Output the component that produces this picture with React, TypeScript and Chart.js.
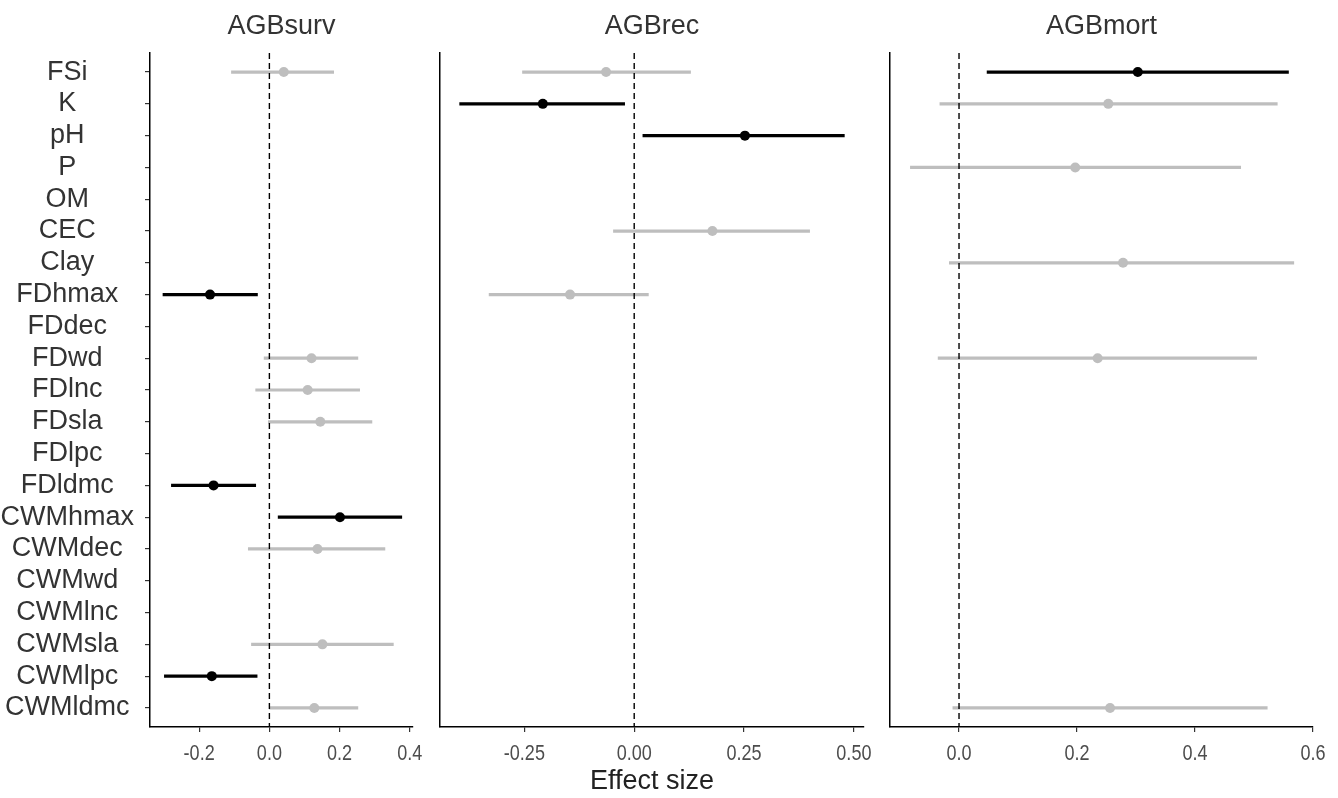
import React, { useEffect, useRef } from "react";
import { Chart, registerables } from "chart.js";

Chart.register(...registerables);

// ---------- DATA ----------
const categories = [
  "FSi", "K", "pH", "P", "OM", "CEC", "Clay", "FDhmax", "FDdec", "FDwd", "FDlnc",
  "FDsla", "FDlpc", "FDldmc", "CWMhmax", "CWMdec", "CWMwd", "CWMlnc", "CWMsla", "CWMlpc", "CWMldmc",
];

// AGBsurv
const survEst = [0.041, null, null, null, null, null, null, -0.169, null, 0.12, 0.109, 0.145, null, -0.159, 0.201, 0.137, null, null, 0.151, -0.164, 0.128];
const survLow = [-0.109, null, null, null, null, null, null, -0.304, null, -0.016, -0.04, -0.004, null, -0.28, 0.024, -0.061, null, null, -0.052, -0.3, -0.001];
const survHigh = [0.184, null, null, null, null, null, null, -0.033, null, 0.253, 0.258, 0.293, null, -0.038, 0.378, 0.33, null, null, 0.354, -0.034, 0.253];
const survTickValues = [-0.2, 0, 0.2, 0.4];
const survTickLabels = ["-0.2", "0.0", "0.2", "0.4"];

// AGBrec
const recEst = [-0.064, -0.208, 0.252, null, null, 0.178, null, -0.146, null, null, null, null, null, null, null, null, null, null, null, null, null];
const recLow = [-0.255, -0.398, 0.019, null, null, -0.048, null, -0.331, null, null, null, null, null, null, null, null, null, null, null, null, null];
const recHigh = [0.129, -0.021, 0.479, null, null, 0.4, null, 0.033, null, null, null, null, null, null, null, null, null, null, null, null, null];
const recTickValues = [-0.25, 0, 0.25, 0.5];
const recTickLabels = ["-0.25", "0.00", "0.25", "0.50"];

// AGBmort
const mortEst = [0.303, 0.253, null, 0.197, null, null, 0.278, null, null, 0.235, null, null, null, null, null, null, null, null, null, null, 0.256];
const mortLow = [0.047, -0.033, null, -0.083, null, null, -0.017, null, null, -0.036, null, null, null, null, null, null, null, null, null, null, -0.011];
const mortHigh = [0.559, 0.54, null, 0.478, null, null, 0.568, null, null, 0.505, null, null, null, null, null, null, null, null, null, null, 0.523];
const mortTickValues = [0, 0.2, 0.4, 0.6];
const mortTickLabels = ["0.0", "0.2", "0.4", "0.6"];

const panelTitles = ["AGBsurv", "AGBrec", "AGBmort"];
const xAxisTitle = "Effect size";

// ---------- STYLE ----------
const SIG = "#000000";
const NS = "#BEBEBE";
const SANS = '"Liberation Sans", Arial, sans-serif';
const H = 798;

type PanelSpec = {
  title: string;
  est: (number | null)[];
  low: (number | null)[];
  high: (number | null)[];
  tickValues: number[];
  tickLabels: string[];
  xMin: number;
  xMax: number;
  left: number;
  width: number;
  padLeft: number;
  padRight: number;
  showY: boolean;
  showXTitle: boolean;
};

const panels: PanelSpec[] = [
  { title: panelTitles[0], est: survEst, low: survLow, high: survHigh, tickValues: survTickValues, tickLabels: survTickLabels, xMin: -0.34, xMax: 0.409, left: 0, width: 425, padLeft: 0, padRight: 12, showY: true, showXTitle: false },
  { title: panelTitles[1], est: recEst, low: recLow, high: recHigh, tickValues: recTickValues, tickLabels: recTickLabels, xMin: -0.442, xMax: 0.523, left: 425, width: 449, padLeft: 15, padRight: 10, showY: false, showXTitle: true },
  { title: panelTitles[2], est: mortEst, low: mortLow, high: mortHigh, tickValues: mortTickValues, tickLabels: mortTickLabels, xMin: -0.117, xMax: 0.6, left: 874, width: 464, padLeft: 16, padRight: 25, showY: false, showXTitle: false },
];

function Panel({ spec }: { spec: PanelSpec }) {
  const ref = useRef<HTMLCanvasElement | null>(null);
  useEffect(() => {
    if (!ref.current) return;
    const datasets: any[] = [];
    // zero reference line (on top)
    datasets.push({
      type: "line",
      data: [{ x: 0, y: -0.6 }, { x: 0, y: 20.6 }],
      borderColor: "#000",
      borderWidth: 1.4,
      borderDash: [6, 4],
      pointRadius: 0,
      showLine: true,
      fill: false,
    });
    const pts: any[] = [];
    const ptColors: string[] = [];
    spec.est.forEach((e, i) => {
      if (e === null) return;
      const lo = spec.low[i] as number;
      const hi = spec.high[i] as number;
      const col = lo > 0 || hi < 0 ? SIG : NS;
      pts.push({ x: e, y: i });
      ptColors.push(col);
    });
    datasets.push({
      type: "scatter",
      data: pts,
      pointRadius: 5,
      pointBorderWidth: 0,
      pointBackgroundColor: ptColors,
      pointBorderColor: ptColors,
    });
    spec.est.forEach((e, i) => {
      if (e === null) return;
      const lo = spec.low[i] as number;
      const hi = spec.high[i] as number;
      const col = lo > 0 || hi < 0 ? SIG : NS;
      datasets.push({
        type: "line",
        data: [{ x: lo, y: i }, { x: hi, y: i }],
        borderColor: col,
        borderWidth: 3.2,
        pointRadius: 0,
        showLine: true,
        fill: false,
      });
    });

    const textPlugin = {
      id: "panelText",
      afterDraw(chart: any) {
        const { ctx, chartArea } = chart;
        const cx = (chartArea.left + chartArea.right) / 2;
        ctx.save();
        ctx.fillStyle = "#333333";
        ctx.font = `27px ${SANS}`;
        ctx.textAlign = "center";
        ctx.textBaseline = "middle";
        ctx.fillText(spec.title, cx, 27);
        if (spec.showXTitle) {
          ctx.fillStyle = "#222222";
          ctx.fillText(xAxisTitle, cx, 782);
        }
        // x tick labels (condensed, like the reference)
        const xs = chart.scales.x;
        ctx.fillStyle = "#4D4D4D";
        ctx.font = `22px ${SANS}`;
        spec.tickValues.forEach((v, i) => {
          const px = xs.getPixelForValue(v);
          ctx.save();
          ctx.translate(px, 754);
          ctx.scale(0.82, 1);
          ctx.fillText(spec.tickLabels[i], 0, 0);
          ctx.restore();
        });
        ctx.restore();
      },
    };

    const chart = new Chart(ref.current, {
      type: "scatter",
      data: { datasets },
      options: {
        animation: false,
        responsive: false,
        maintainAspectRatio: false,
        layout: { padding: { top: 53, left: spec.padLeft, right: spec.padRight, bottom: 0 } },
        plugins: { legend: { display: false }, tooltip: { enabled: false }, title: { display: false } },
        scales: {
          x: {
            type: "linear",
            min: spec.xMin,
            max: spec.xMax,
            afterBuildTicks: (s: any) => {
              s.ticks = spec.tickValues.map((v) => ({ value: v }));
            },
            afterFit: (s: any) => {
              s.height = H - 727;
            },
            ticks: { display: false },
            grid: { drawOnChartArea: false, drawTicks: true, tickLength: 5, color: "#333333", lineWidth: 1.2 },
            border: { display: true, color: "#000", width: 1.5 },
          },
          y: {
            type: "linear",
            min: -0.6,
            max: 20.6,
            reverse: true,
            afterBuildTicks: (s: any) => {
              s.ticks = categories.map((_c, i) => ({ value: i }));
            },
            afterFit: (s: any) => {
              s.width = spec.showY ? 150 : 0;
            },
            ticks: {
              display: spec.showY,
              autoSkip: false,
              padding: 11,
              crossAlign: "center",
              color: "#333333",
              font: { family: SANS, size: 27, lineHeight: 1 },
              callback: (_v: any, idx: number) => categories[idx],
            },
            grid: { drawOnChartArea: false, drawTicks: spec.showY, tickLength: 5, color: "#333333", lineWidth: 1.2 },
            border: { display: true, color: "#000", width: 1.5 },
          },
        },
      } as any,
      plugins: [textPlugin],
    });
    return () => chart.destroy();
  }, [spec]);
  return (
    <canvas
      ref={ref}
      width={spec.width}
      height={H}
      style={{ position: "absolute", left: spec.left, top: 0, width: spec.width, height: H }}
    />
  );
}

export default function App() {
  return (
    <div style={{ position: "fixed", left: 0, top: 0, width: 1338, height: H, background: "#fff" }}>
      {panels.map((p) => (
        <Panel key={p.title} spec={p} />
      ))}
    </div>
  );
}
